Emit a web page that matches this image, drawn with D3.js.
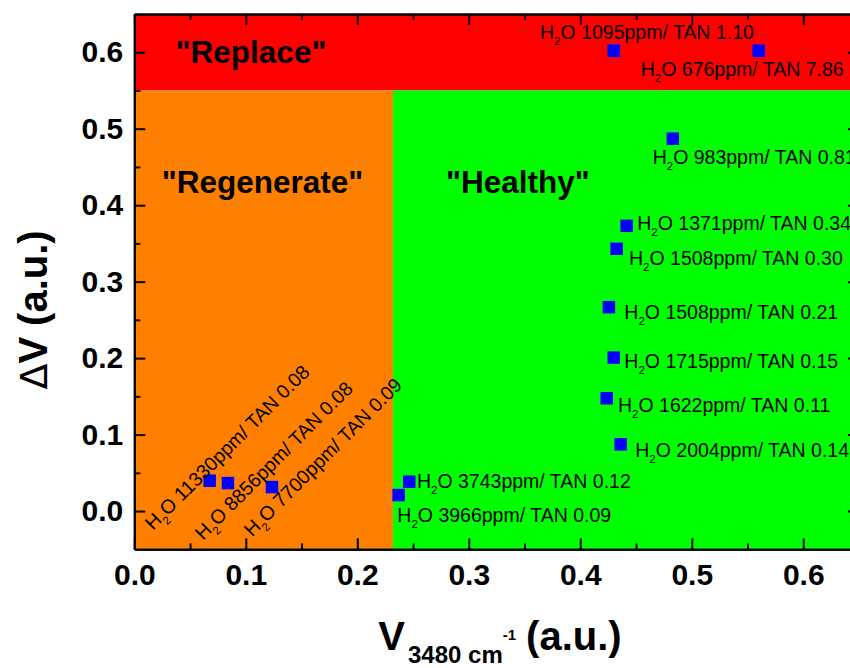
<!DOCTYPE html>
<html>
<head>
<meta charset="UTF-8">
<script src="https://d3js.org/d3.v7.min.js"></script>
<style>
  html, body { margin: 0; padding: 0; background: #fff; overflow: hidden; }
  svg { display: block; font-family: "Liberation Sans", Arial, sans-serif; }
  .axis path, .axis line { stroke: #000; stroke-width: 2; }
  .axis text { font-size: 30px; font-weight: bold; fill: #000; font-family: "Liberation Sans", Arial, sans-serif; }
</style>
</head>
<body>
<svg width="850" height="668"></svg>
<script>
// samples: V3480 (x), dV (y), water content, TAN
const xVals = [0.430, 0.560, 0.483, 0.4416, 0.4326, 0.4257, 0.430, 0.4237, 0.4362, 0.2466, 0.2371, 0.0676, 0.0840, 0.1235];
const yVals = [0.602, 0.602, 0.487, 0.373, 0.343, 0.2666, 0.2007, 0.1475, 0.0873, 0.0384, 0.0209, 0.0397, 0.0366, 0.0314];
const water = [1095, 676, 983, 1371, 1508, 1508, 1715, 1622, 2004, 3743, 3966, 11330, 8856, 7700];
const tan = ["1.10", "7.86", "0.81", "0.34", "0.30", "0.21", "0.15", "0.11", "0.14", "0.12", "0.09", "0.08", "0.08", "0.09"];
// where each label sits (data units) and its angle
const labelX = [0.3639, 0.4542, 0.4649, 0.4511, 0.4437, 0.4395, 0.4395, 0.4338, 0.4493, 0.2535, 0.2359, 0.0168, 0.0616, 0.1056];
const labelY = [0.6174, 0.5694, 0.4542, 0.3669, 0.3220, 0.2509, 0.1868, 0.1300, 0.0711, 0.0297, -0.0148, -0.0262, -0.0393, -0.0347];
const labelAngle = [0, 0, 0, 0, 0, 0, 0, 0, 0, 0, 0, -45, -45, -45];

// zones
const zoneNames = ["\"Replace\"", "\"Regenerate\"", "\"Healthy\""];
const zoneX0 = [0, 0, 0.232];
const zoneX1 = [0.65, 0.232, 0.65];
const zoneY0 = [0.55, -0.05, -0.05];
const zoneY1 = [0.65, 0.55, 0.55];
const zoneColors = ["#ff0000", "#ff8000", "#00ff00"];
const zoneTextX = [0.0371, 0.0246, 0.2796];
const zoneTextY = [0.5859, 0.4158, 0.4158];

const xTicks = [0, 0.1, 0.2, 0.3, 0.4, 0.5, 0.6];
const yTicks = [0, 0.1, 0.2, 0.3, 0.4, 0.5, 0.6];
const xMinor = [0.05, 0.15, 0.25, 0.35, 0.45, 0.55];
const yMinor = [0.05, 0.15, 0.25, 0.35, 0.45, 0.55];

const svg = d3.select("svg");
const m = { left: 134.3, right: 859, top: 14, bottom: 549.3 };

const x = d3.scaleLinear().domain([0, 0.65]).range([m.left, m.right]);
const y = d3.scaleLinear().domain([-0.05, 0.65]).range([m.bottom, m.top]);

// background zones
svg.append("g").selectAll("rect")
  .data(zoneNames)
  .enter().append("rect")
  .attr("x", (d, i) => x(zoneX0[i]))
  .attr("y", (d, i) => y(zoneY1[i]))
  .attr("width", (d, i) => x(zoneX1[i]) - x(zoneX0[i]))
  .attr("height", (d, i) => y(zoneY0[i]) - y(zoneY1[i]))
  .attr("fill", (d, i) => zoneColors[i]);

svg.append("g").selectAll("text")
  .data(zoneNames)
  .enter().append("text")
  .attr("x", (d, i) => x(zoneTextX[i]))
  .attr("y", (d, i) => y(zoneTextY[i]))
  .attr("font-size", 31.5)
  .attr("font-weight", "bold")
  .text(d => d);

// axes
const fmt = d3.format(".1f");
function addAxis(axis, tx, ty) {
  svg.append("g").attr("class", "axis")
    .attr("transform", `translate(${tx},${ty})`)
    .call(axis);
}
addAxis(d3.axisBottom(x).tickValues(xTicks).tickFormat(fmt).tickSizeInner(-11).tickSizeOuter(0).tickPadding(14), 0, m.bottom);
addAxis(d3.axisBottom(x).tickValues(xMinor).tickFormat("").tickSizeInner(-6).tickSizeOuter(0), 0, m.bottom);
addAxis(d3.axisLeft(y).tickValues(yTicks).tickFormat(fmt).tickSizeInner(-11).tickSizeOuter(0).tickPadding(11), m.left, 0);
addAxis(d3.axisLeft(y).tickValues(yMinor).tickFormat("").tickSizeInner(-6).tickSizeOuter(0), m.left, 0);
addAxis(d3.axisTop(x).tickValues(xTicks).tickFormat("").tickSizeInner(-11).tickSizeOuter(0), 0, m.top);
addAxis(d3.axisTop(x).tickValues(xMinor).tickFormat("").tickSizeInner(-6).tickSizeOuter(0), 0, m.top);
addAxis(d3.axisRight(y).tickValues(yTicks).tickFormat("").tickSizeInner(-11).tickSizeOuter(0), m.right, 0);
addAxis(d3.axisRight(y).tickValues(yMinor).tickFormat("").tickSizeInner(-6).tickSizeOuter(0), m.right, 0);

// points
const sq = 12.5;
svg.append("g").selectAll("rect")
  .data(xVals)
  .enter().append("rect")
  .attr("x", d => x(d) - sq / 2)
  .attr("y", (d, i) => y(yVals[i]) - sq / 2)
  .attr("width", sq)
  .attr("height", sq)
  .attr("fill", "#0000ff");

// point labels
const lab = svg.append("g").selectAll("text")
  .data(water)
  .enter().append("text")
  .attr("transform", (d, i) => `translate(${x(labelX[i])},${y(labelY[i])}) rotate(${labelAngle[i]})`)
  .attr("font-size", 19.5)
  .attr("fill", "#000");
lab.append("tspan").text("H");
lab.append("tspan").attr("font-size", 11.5).attr("dy", 6).text("2");
lab.append("tspan").attr("dy", -6).text((d, i) => `O ${d}ppm/ TAN ${tan[i]}`);

// axis titles
const yt = svg.append("text")
  .attr("transform", "translate(47,310) rotate(-90)")
  .attr("text-anchor", "middle")
  .attr("font-size", 40)
  .attr("font-weight", "bold");
yt.append("tspan").attr("font-weight", "normal").attr("font-family", "DejaVu Sans").attr("font-size", 38).text("\u0394");
yt.append("tspan").text("V");
yt.append("tspan").attr("dx", 11).text("(a.u.)");

const xt = svg.append("text")
  .attr("x", 500)
  .attr("y", 650)
  .attr("text-anchor", "middle")
  .attr("font-size", 40)
  .attr("font-weight", "bold");
xt.append("tspan").text("V");
xt.append("tspan").attr("font-size", 24).attr("dy", 13).attr("dx", 3).text("3480 cm");
xt.append("tspan").attr("font-size", 15).attr("dy", -23).text("-1");
xt.append("tspan").attr("dy", 10).attr("dx", 10).text("(a.u.)");
</script>
</body>
</html>
